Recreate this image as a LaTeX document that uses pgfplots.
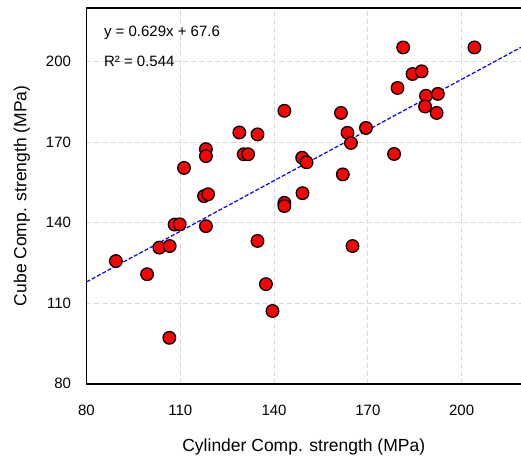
\documentclass[border=0pt]{standalone}
\usepackage{fontspec}
\setmainfont{Liberation Sans}
\usepackage{pgfplots}
\pgfplotsset{compat=1.18}
\begin{document}
\begin{tikzpicture}
\begin{axis}[
  scale only axis,
  width=434.5pt, height=375.7pt,
  xmin=80, xmax=219, ymin=80, ymax=220,
  xtick={80,110,140,170,200}, ytick={80,110,140,170,200},
  axis lines*=left,
  axis line style={line width=1.8pt, black},
  major tick length=0pt,
  grid=major,
  major grid style={dashed, line width=1pt, color=black!15, dash pattern=on 5pt off 3pt},
  /pgf/number format/assume math mode=true,
  tick label style={font=\fontsize{15}{17}\selectfont},
  xticklabel style={yshift=-18pt},
  yticklabel style={xshift=-12pt},
  label style={font=\fontsize{17.5}{19}\selectfont},
  xlabel={Cylinder Comp. strength (MPa)},
  ylabel={Cube Comp. strength (MPa)},
  xlabel style={yshift=-16pt},
  ylabel style={yshift=9pt},
  clip=false,
]
\addplot[only marks, mark=*, mark size=6.3pt, mark options={fill=red, draw=black, line width=1.3pt}]
coordinates {
(89.4,125.7) (99.4,120.8) (103.3,130.7) (106.6,131.3) (106.5,97.1)
(108.2,139.3) (109.8,139.4) (111.2,160.4) (118.2,138.7) (117.6,149.9)
(118.9,150.6) (118.2,167.4) (118.2,164.8) (128.9,173.6) (130.3,165.5)
(131.7,165.5) (134.7,172.9) (134.7,133.2) (137.4,117.1) (139.5,107.1)
(143.3,181.7) (143.3,147.4) (143.3,146.2) (149.1,151.0) (149.0,164.2)
(150.4,162.5) (161.4,180.9) (162.0,158.0) (163.5,173.5) (164.6,169.7)
(165.1,131.3) (169.4,175.3) (178.4,165.6) (179.5,190.2) (181.3,205.3)
(184.3,195.4) (187.2,196.4) (188.6,187.3) (188.3,183.3) (192.4,188.0)
(192.0,180.9) (204.1,205.3)
};
\addplot[blue, line width=1.2pt, dash pattern=on 4pt off 2pt] coordinates {(80,117.92) (219,205.35)};
\draw[black, line width=1.8pt] (rel axis cs:0,1) -- (rel axis cs:1,1);
\node[anchor=west, font=\fontsize{15}{17}\selectfont] at ([xshift=14pt,yshift=-25pt]rel axis cs:0,1) {y = 0.629x + 67.6};
\node[anchor=west, font=\fontsize{15}{17}\selectfont] at ([xshift=14pt,yshift=-53pt]rel axis cs:0,1) {R² = 0.544};
\end{axis}
\pgfresetboundingbox
\path (-86.5pt,-74.3pt) rectangle (434.5pt,383.7pt);
\end{tikzpicture}
\end{document}
